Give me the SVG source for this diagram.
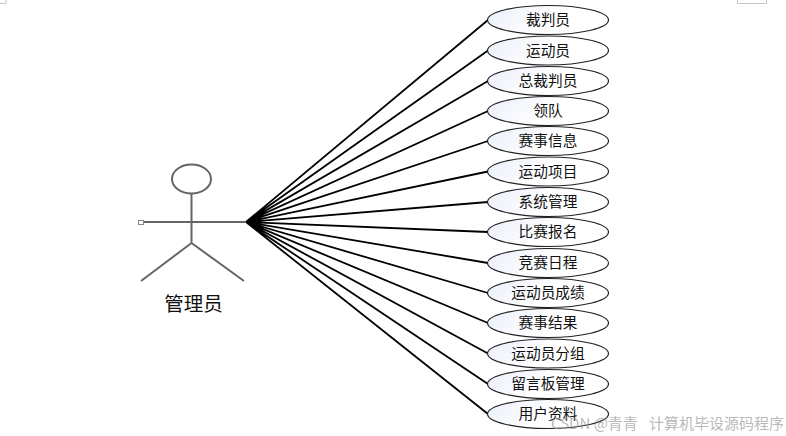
<svg xmlns="http://www.w3.org/2000/svg" width="786" height="436" viewBox="0 0 786 436">
<defs>
<linearGradient id="uc" x1="0" y1="0" x2="1" y2="0.3"><stop offset="0" stop-color="#e9eefa"/><stop offset="0.6" stop-color="#ffffff"/></linearGradient>
</defs>
<style>
.uc{fill:url(#uc);stroke:#222;stroke-width:1.2}
.t{font-family:"Noto Sans CJK SC","Noto Sans CJK JP",sans-serif;font-size:14.700px;fill:#111;text-anchor:middle}
.a{fill:none;stroke:#666;stroke-width:2}
.c{stroke:#000;stroke-width:1.8;fill:none}
.f{fill:none;stroke:#c4c4c4;stroke-width:1}
.w{font-family:"Noto Sans CJK SC",sans-serif;font-size:15px;fill:#999;fill-opacity:0.7}
</style>
<rect width="786" height="436" fill="#fff"/>
<path class="f" d="M0 3.500H6V0M737.500 0V3.500H766.500V0"/>
<g id="connectors">
<path class="c" d="M246 222L488 20M246 222L488 50.500M246 222L488 81M246 222L488 111M246 222L488 141M246 222L488 171.500M246 222L488 202M246 222L488 232M246 222L488 263M246 222L488 293M246 222L488 323M246 222L488 353.500M246 222L488 384M246 222L488 414"/>
</g>
<g id="actor">
<ellipse class="a" cx="191.500" cy="179" rx="19.500" ry="14.500"/>
<path class="a" d="M191.500 194V243M142 222H246M191.500 243L141 281M191.500 243L244 281"/>
<rect x="138.500" y="220.500" width="5" height="4" fill="#fff" stroke="#888"/>
<text x="193.500" y="311" font-family="'Noto Sans CJK SC',sans-serif" font-size="19.500" text-anchor="middle" fill="#111">管理员</text>
</g>
<g id="n1"><ellipse class="uc" cx="548" cy="20" rx="60.500" ry="14.500"/><text class="t" x="548" y="25">裁判员</text></g>
<g id="n2"><ellipse class="uc" cx="548" cy="50.500" rx="60.500" ry="14.500"/><text class="t" x="548" y="55.500">运动员</text></g>
<g id="n3"><ellipse class="uc" cx="548" cy="81" rx="60.500" ry="14.500"/><text class="t" x="548" y="86">总裁判员</text></g>
<g id="n4"><ellipse class="uc" cx="548" cy="111" rx="60.500" ry="14.500"/><text class="t" x="548" y="116">领队</text></g>
<g id="n5"><ellipse class="uc" cx="548" cy="141" rx="60.500" ry="14.500"/><text class="t" x="548" y="146">赛事信息</text></g>
<g id="n6"><ellipse class="uc" cx="548" cy="171.500" rx="60.500" ry="14.500"/><text class="t" x="548" y="176.500">运动项目</text></g>
<g id="n7"><ellipse class="uc" cx="548" cy="202" rx="60.500" ry="14.500"/><text class="t" x="548" y="207">系统管理</text></g>
<g id="n8"><ellipse class="uc" cx="548" cy="232" rx="60.500" ry="14.500"/><text class="t" x="548" y="237">比赛报名</text></g>
<g id="n9"><ellipse class="uc" cx="548" cy="263" rx="60.500" ry="14.500"/><text class="t" x="548" y="268">竞赛日程</text></g>
<g id="n10"><ellipse class="uc" cx="548" cy="293" rx="60.500" ry="14.500"/><text class="t" x="548" y="298">运动员成绩</text></g>
<g id="n11"><ellipse class="uc" cx="548" cy="323" rx="60.500" ry="14.500"/><text class="t" x="548" y="328">赛事结果</text></g>
<g id="n12"><ellipse class="uc" cx="548" cy="353.500" rx="60.500" ry="14.500"/><text class="t" x="548" y="358.500">运动员分组</text></g>
<g id="n13"><ellipse class="uc" cx="548" cy="384" rx="60.500" ry="14.500"/><text class="t" x="548" y="389">留言板管理</text></g>
<g id="n14"><ellipse class="uc" cx="548" cy="414" rx="60.500" ry="14.500"/><text class="t" x="548" y="419">用户资料</text></g>
<text class="w" x="551" y="429">CSDN @青青</text>
<text class="w" x="649" y="429">计算机毕设源码程序</text>
</svg>
